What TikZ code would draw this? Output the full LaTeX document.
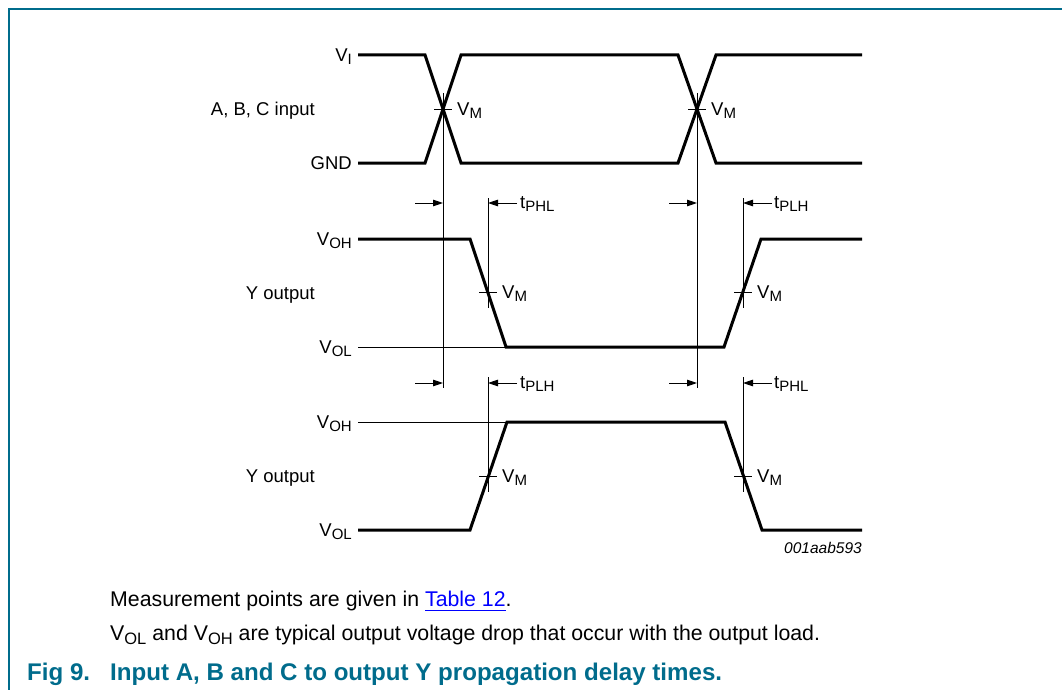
\documentclass[tikz,border=0pt]{standalone}
\usepackage{fontspec}
\setmainfont{Liberation Sans}
\usetikzlibrary{arrows.meta}
\definecolor{nxpteal}{RGB}{0,108,140}
\definecolor{linkblue}{RGB}{0,0,255}
\newcommand\lsub[1]{\raisebox{-3.3pt}{\fontsize{15}{15}\selectfont #1}}
\newcommand\bsub[1]{\raisebox{-4pt}{\fontsize{16.5}{16.5}\selectfont #1}}
\newcommand\ulink[1]{\textcolor{linkblue}{\setbox0\hbox{#1}\rlap{\rule[-5pt]{\wd0}{1.2pt}}\box0}}
\begin{document}
\begin{tikzpicture}[x=1pt,y=-1pt,
  sig/.style={line width=3pt, line join=miter},
  guide/.style={line width=0.9pt},
  lbl/.style={inner sep=0pt, font=\fontsize{18.5}{18.5}\selectfont},
  body/.style={inner sep=0pt, font=\fontsize{21.3}{21.3}\selectfont},
  capt/.style={inner sep=0pt, text=nxpteal, font=\fontsize{24.1}{24.1}\selectfont\bfseries},
  arr/.style={line width=0.9pt, -{Triangle[length=10pt,width=6.5pt]}}]
\useasboundingbox (0,0) rectangle (1062,690);
\fill[white] (0,0) rectangle (1062,690);
% frame
\draw[nxpteal, line width=1.5pt] (1062,9) -- (9,9) -- (9,690);

% input waveform
\draw[sig] (358,55) -- (425,55) -- (461,163) -- (678,163) -- (716,55) -- (862,55);
\draw[sig] (358,163) -- (425,163) -- (461,55) -- (678,55) -- (716,163) -- (862,163);
% first output
\draw[sig] (358,239) -- (470,239) -- (506,347) -- (724,347) -- (761,239) -- (862,239);
\draw[guide] (358,347) -- (506,347);
% second output
\draw[sig] (358,530) -- (470,530) -- (507,422) -- (725,422) -- (762,530) -- (862,530);
\draw[guide] (358,422) -- (507,422);

% VM ticks
\draw[guide] (434,109) -- (452,109);
\draw[guide] (688,109) -- (706,109);
\draw[guide] (479,292) -- (497,292);
\draw[guide] (734,292) -- (752,292);
\draw[guide] (479,476) -- (497,476);
\draw[guide] (734,476) -- (752,476);

% vertical guides
\coordinate (g1t) at (443,93);  \coordinate (g1b) at (443,388);
\coordinate (g2t) at (697,93);  \coordinate (g2b) at (697,388);
\draw[guide] (g1t) -- (g1b);
\draw[guide] (g2t) -- (g2b);
\draw[guide] (488,198) -- (488,308);
\draw[guide] (488,377) -- (488,492);
\draw[guide] (743,198) -- (743,308);
\draw[guide] (743,377) -- (743,492);

% arrows row 1
\coordinate (a1s) at (415,203); \coordinate (a1e) at (443,203);
\coordinate (a2s) at (517,203); \coordinate (a2e) at (488,203);
\coordinate (a3s) at (669,203); \coordinate (a3e) at (697,203);
\coordinate (a4s) at (772,203); \coordinate (a4e) at (743,203);
\draw[arr] (a1s) -- (a1e);
\draw[arr] (a2s) -- (a2e);
\draw[arr] (a3s) -- (a3e);
\draw[arr] (a4s) -- (a4e);
% arrows row 2
\coordinate (b1s) at (415,383); \coordinate (b1e) at (443,383);
\coordinate (b2s) at (517,383); \coordinate (b2e) at (488,383);
\coordinate (b3s) at (669,383); \coordinate (b3e) at (697,383);
\coordinate (b4s) at (772,383); \coordinate (b4e) at (743,383);
\draw[arr] (b1s) -- (b1e);
\draw[arr] (b2s) -- (b2e);
\draw[arr] (b3s) -- (b3e);
\draw[arr] (b4s) -- (b4e);

% left labels
\node[lbl, anchor=base east] (vi) at (352,61.5) {V\lsub{I}};
\node[lbl, anchor=base east] (abc) at (315,115.5) {A, B, C input};
\node[lbl, anchor=base east] (gnd) at (352,169.5) {GND};
\node[lbl, anchor=base east] (voh1) at (352,245.5) {V\lsub{OH}};
\node[lbl, anchor=base east] (y1) at (315,299.5) {Y output};
\node[lbl, anchor=base east] (vol1) at (352,353.5) {V\lsub{OL}};
\node[lbl, anchor=base east] (voh2) at (352,428.5) {V\lsub{OH}};
\node[lbl, anchor=base east] (y2) at (315,482.5) {Y output};
\node[lbl, anchor=base east] (vol2) at (352,536.5) {V\lsub{OL}};

% VM labels
\node[lbl, anchor=base west] (vm1) at (457,115.5) {V\lsub{M}};
\node[lbl, anchor=base west] (vm2) at (711,115.5) {V\lsub{M}};
\node[lbl, anchor=base west] (vm3) at (502,298.5) {V\lsub{M}};
\node[lbl, anchor=base west] (vm4) at (757,298.5) {V\lsub{M}};
\node[lbl, anchor=base west] (vm5) at (502,482.5) {V\lsub{M}};
\node[lbl, anchor=base west] (vm6) at (757,482.5) {V\lsub{M}};

% timing labels
\node[lbl, anchor=base west] (t1) at (520,208) {t\lsub{PHL}};
\node[lbl, anchor=base west] (t2) at (774,208) {t\lsub{PLH}};
\node[lbl, anchor=base west] (t3) at (520,388) {t\lsub{PLH}};
\node[lbl, anchor=base west] (t4) at (774,388) {t\lsub{PHL}};

% id
\node[inner sep=0pt, anchor=base east, font=\fontsize{15.5}{15.5}\selectfont\itshape] (fid) at (862,553) {001aab593};

% notes
\node[body, anchor=base west] (n1) at (110,606) {Measurement points are given in \ulink{Table 12}.};
\node[body, anchor=base west] (n2) at (110,640) {V\bsub{OL} and V\bsub{OH} are typical output voltage drop that occur with the output load.};
\node[capt, anchor=base west] (fig) at (27,680) {Fig 9.};
\node[capt, anchor=base west] (cap) at (110,680) {Input A, B and C to output Y propagation delay times.};
\end{tikzpicture}
\end{document}
